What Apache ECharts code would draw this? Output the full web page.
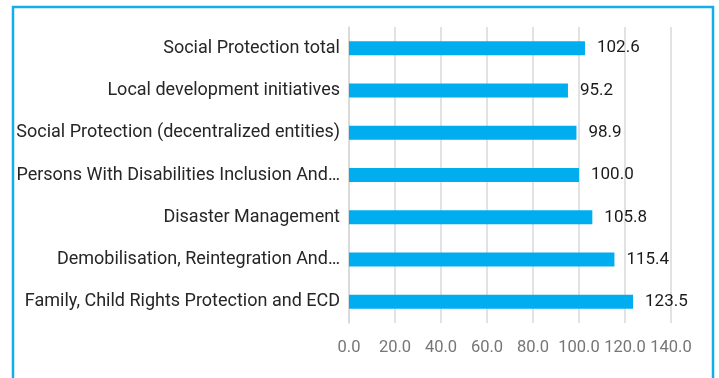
<!DOCTYPE html>
<html>
<head>
<meta charset="utf-8">
<script src="https://cdn.jsdelivr.net/npm/echarts@6/dist/echarts.min.js"></script>
<style>
  html, body { margin: 0; padding: 0; background: #fff; }
  #chart { width: 719px; height: 378px; }
</style>
</head>
<body>
<div id="chart"></div>
<script>
var categories = [
  'Social Protection total',
  'Local development initiatives',
  'Social Protection (decentralized entities)',
  'Persons With Disabilities Inclusion And…',
  'Disaster Management',
  'Demobilisation, Reintegration And…',
  'Family, Child Rights Protection and ECD'
]
var values = [102.6, 95.2, 98.9, 100.0, 105.8, 115.4, 123.5]
var axisMax = 140
var axisStep = 20

var font = 'Roboto, sans-serif'
var chart = echarts.init(document.getElementById('chart'))

chart.setOption({
  animation: false,
  graphic: [{
    type: 'rect',
    shape: { x: 13, y: 7, width: 700, height: 420 },
    style: { fill: 'none', stroke: '#12aeea', lineWidth: 2.5 }
  }],
  grid: { left: 349, right: 48, top: 27, bottom: 55, outerBoundsMode: 'none', containLabel: false },
  xAxis: {
    type: 'value',
    min: 0,
    max: axisMax,
    interval: axisStep,
    axisLine: { show: false },
    axisTick: { show: false },
    splitLine: { lineStyle: { color: '#d9d9d9', width: 1.5 } },
    axisLabel: {
      margin: 16,
      color: '#767676',
      fontSize: 16.5,
      fontFamily: font,
      hideOverlap: false,
      showMaxLabel: true,
      formatter: function (v) { return v.toFixed(1) }
    }
  },
  yAxis: {
    type: 'category',
    inverse: true,
    data: categories,
    axisLine: { lineStyle: { color: '#d9d9d9', width: 1.5 } },
    axisTick: { show: false },
    axisLabel: {
      margin: 9,
      color: '#262626',
      fontSize: 18,
      fontFamily: font
    }
  },
  series: [{
    type: 'bar',
    data: values,
    barWidth: 14,
    itemStyle: { color: '#00adef' },
    label: {
      show: true,
      position: 'right',
      distance: 12,
      color: '#1a1a1a',
      fontSize: 17,
      fontFamily: font,
      formatter: function (p) { return p.value.toFixed(1) }
    }
  }]
})
</script>
</body>
</html>
